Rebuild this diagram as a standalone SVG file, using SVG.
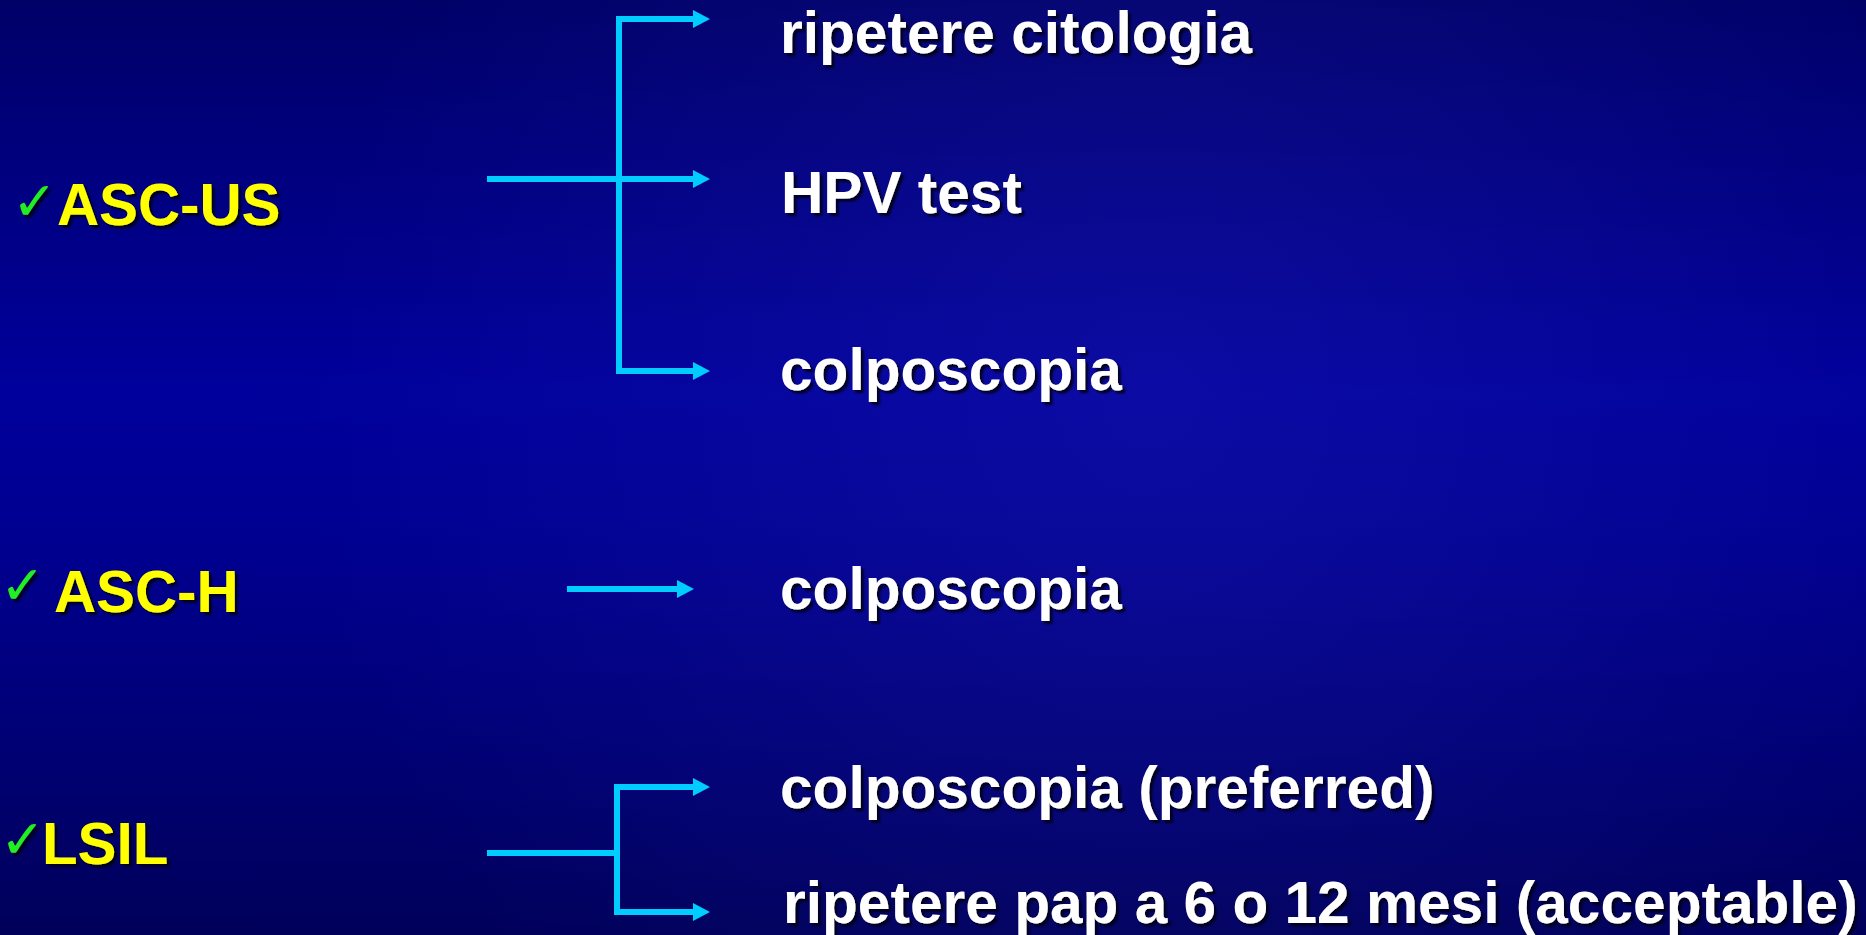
<svg xmlns="http://www.w3.org/2000/svg" width="1866" height="935" viewBox="0 0 1866 935">
  <defs>
    <linearGradient id="bg" x1="0" y1="0" x2="0" y2="1">
      <stop offset="0" stop-color="#000068"/>
      <stop offset="0.42" stop-color="#00009c"/>
      <stop offset="0.6" stop-color="#00008e"/>
      <stop offset="1" stop-color="#00005a"/>
    </linearGradient>
    <radialGradient id="glow" cx="1150" cy="400" r="850" gradientUnits="userSpaceOnUse">
      <stop offset="0" stop-color="#3030c0" stop-opacity="0.25"/>
      <stop offset="1" stop-color="#3030c0" stop-opacity="0"/>
    </radialGradient>
    <marker id="arrow" markerUnits="userSpaceOnUse" markerWidth="17" markerHeight="18" viewBox="0 0 17 18" refX="0" refY="9" orient="auto">
      <path d="M0,0 L17,9 L0,18 z" fill="#00ccff"/>
    </marker>
    <filter id="shadow" x="-10%" y="-20%" width="130%" height="150%">
      <feDropShadow dx="3" dy="3" stdDeviation="0.8" flood-color="#000018" flood-opacity="0.9"/>
    </filter>
    <style>
      .lbl { font-family: "Liberation Sans", Arial, sans-serif; font-weight: bold; filter: url(#shadow); }
      .cat { fill: #ffff00; font-size: 58.3px; }
      .opt { fill: #ffffff; font-size: 58.6px; }
      .chk { fill: #22ee22; font-family: "DejaVu Sans", sans-serif; font-size: 54px; filter: url(#shadow); }
      .conn { stroke: #00ccff; stroke-width: 6; fill: none; }
    </style>
  </defs>
  <rect width="1866" height="935" fill="url(#bg)"/>
  <rect width="1866" height="935" fill="url(#glow)"/>

  <g id="connectors">
    <path class="conn" d="M487,179 H693" marker-end="url(#arrow)"/>
    <path class="conn" d="M619,16 V374"/>
    <path class="conn" d="M616,19 H693" marker-end="url(#arrow)"/>
    <path class="conn" d="M616,371 H693" marker-end="url(#arrow)"/>
    <path class="conn" d="M567,589 H677" marker-end="url(#arrow)"/>
    <path class="conn" d="M487,853 H617"/>
    <path class="conn" d="M617,784 V915"/>
    <path class="conn" d="M614,787 H693" marker-end="url(#arrow)"/>
    <path class="conn" d="M614,912 H693" marker-end="url(#arrow)"/>
  </g>

  <g id="asc-us">
    <text class="chk" x="12" y="220">✓</text>
    <text class="lbl cat" x="57" y="225">ASC-US</text>
  </g>
  <g id="asc-h">
    <text class="chk" x="0" y="604">✓</text>
    <text class="lbl cat" x="54" y="612">ASC-H</text>
  </g>
  <g id="lsil">
    <text class="chk" x="0" y="858">✓</text>
    <text class="lbl cat" x="42" y="864">LSIL</text>
  </g>

  <g id="ripetere-citologia">
    <text class="lbl opt" x="780" y="53">ripetere citologia</text>
  </g>
  <g id="hpv-test">
    <text class="lbl opt" x="781" y="213">HPV test</text>
  </g>
  <g id="colposcopia-1">
    <text class="lbl opt" x="780" y="390">colposcopia</text>
  </g>
  <g id="colposcopia-2">
    <text class="lbl opt" x="780" y="609">colposcopia</text>
  </g>
  <g id="colposcopia-preferred">
    <text class="lbl opt" x="780" y="808">colposcopia (preferred)</text>
  </g>
  <g id="ripetere-pap">
    <text class="lbl opt" x="783" y="923">ripetere pap a 6 o 12 mesi (acceptable)</text>
  </g>
</svg>
